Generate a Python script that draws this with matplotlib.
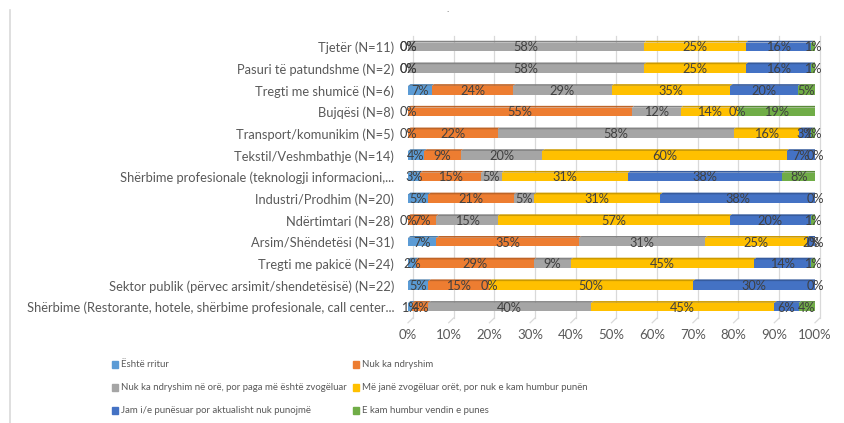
import numpy as np
import matplotlib.pyplot as plt
from matplotlib.patches import Polygon, Rectangle
from matplotlib.lines import Line2D
import matplotlib.colors as mcolors

plt.rcParams['font.family'] = ['Lato', 'DejaVu Sans']

# Categories, top to bottom as shown
categories = [
    "Tjetër (N=11)",
    "Pasuri të patundshme (N=2)",
    "Tregti me shumicë (N=6)",
    "Bujqësi (N=8)",
    "Transport/komunikim (N=5)",
    "Tekstil/Veshmbathje (N=14)",
    "Shërbime profesionale (teknologji informacioni,...",
    "Industri/Prodhim (N=20)",
    "Ndërtimtari (N=28)",
    "Arsim/Shëndetësi (N=31)",
    "Tregti me pakicë (N=24)",
    "Sektor publik (përvec arsimit/shendetësisë) (N=22)",
    "Shërbime (Restorante, hotele, shërbime profesionale, call center...",
]

series_names = [
    "Është rritur",
    "Nuk ka ndryshim",
    "Nuk ka ndryshim në orë, por paga më është zvogëluar",
    "Më janë zvogëluar orët, por nuk e kam humbur punën",
    "Jam i/e punësuar por aktualisht nuk punojmë",
    "E kam humbur vendin e punes",
]

# values in % (same order as categories)
rritur         = [0, 0, 7, 0, 0, 4, 3, 5, 0, 7, 2, 5, 1]
pa_ndryshim    = [0, 0, 24, 55, 22, 9, 15, 21, 7, 35, 29, 15, 4]
paga_zvogeluar = [58, 58, 29, 12, 58, 20, 5, 5, 15, 31, 9, 0, 40]
oret_zvogeluar = [25, 25, 35, 14, 16, 60, 31, 31, 57, 25, 45, 50, 45]
nuk_punojme    = [16, 16, 20, 0, 3, 7, 38, 38, 20, 2, 14, 30, 6]
humbur         = [1, 1, 5, 19, 1, 0, 8, 0, 1, 0, 1, 0, 4]

colors = ["#5B9BD5", "#ED7D31", "#A5A5A5", "#FFC000", "#4472C4", "#70AD47"]
text_color = "#595959"

data = np.array([rritur, pa_ndryshim, paga_zvogeluar, oret_zvogeluar,
                 nuk_punojme, humbur], dtype=float)
shares = data / data.sum(axis=0) * 100  # 100% stacked

n = len(categories)
ypos = np.arange(n)[::-1]

fig = plt.figure(figsize=(8.44, 4.23), dpi=100)
ax = fig.add_axes([408 / 844, 1 - 318 / 423, 407 / 844, 282 / 423])
ax.set_xlim(0, 100)
ax.set_ylim(-0.5, n - 0.5)

# back gridlines (3D offset) and floor slants
dx, dy = 1.2, 0.08
for g in range(0, 101, 10):
    ax.plot([g + dx, g + dx], [-0.5, n - 0.5], color="#D9D9D9", lw=0.9,
            zorder=0, clip_on=False)
    ax.plot([g + dx, g], [-0.5, -0.72], color="#D9D9D9", lw=0.9,
            zorder=0, clip_on=False)

h = 0.40
left = np.zeros(n)
for i in range(len(series_names)):
    w = shares[i]
    ax.barh(ypos, w, left=left, height=h, color=colors[i], zorder=2,
            label=series_names[i])
    dark = tuple(np.array(mcolors.to_rgb(colors[i])) * 0.8)
    for j in range(n):
        if w[j] > 0:
            x0, y0 = left[j], ypos[j] + h / 2
            ax.add_patch(Polygon([(x0, y0), (x0 + w[j], y0),
                                  (x0 + w[j] + dx * 0.5, y0 + dy),
                                  (x0 + dx * 0.5, y0 + dy)],
                                 closed=True, color=dark, lw=0, zorder=3))
        ax.text(left[j] + w[j] / 2, ypos[j] - 0.02, f"{int(data[i, j])}%",
                ha="center", va="center", fontsize=9.2, color="#404040",
                zorder=4)
    left = left + w

for s in ax.spines.values():
    s.set_visible(False)
ax.set_yticks(ypos)
ax.set_yticklabels(categories, fontsize=9.3, color=text_color)
ax.tick_params(axis="y", length=0, pad=10)
ax.set_xticks(range(0, 101, 10))
ax.set_xticklabels([f"{g}%" for g in range(0, 101, 10)], fontsize=9.5,
                   color=text_color)
ax.tick_params(axis="x", length=0, pad=8)

# legend (two columns, row-wise order as in the original)
leg_x = [112 / 844, 353 / 844]
leg_y = [1 - 364 / 423, 1 - 387 / 423, 1 - 410 / 423]
for i, name in enumerate(series_names):
    cx = leg_x[i % 2]
    cy = leg_y[i // 2]
    fig.patches.append(Rectangle((cx, cy - 3.5 / 423), 6 / 844, 7 / 423,
                                 transform=fig.transFigure, color=colors[i]))
    fig.text(cx + 9 / 844, cy, name, fontsize=6.9, color=text_color,
             va="center", ha="left")

fig.text(448 / 844, 1 - 10 / 423, ".", fontsize=7, color=text_color,
         ha="center", va="center")
fig.lines.append(Line2D([10 / 844, 10 / 844], [0, 1 - 10 / 423],
                        transform=fig.transFigure, color="#D9D9D9", lw=1.2))

fig.savefig("out.png", dpi=100, facecolor="white")
